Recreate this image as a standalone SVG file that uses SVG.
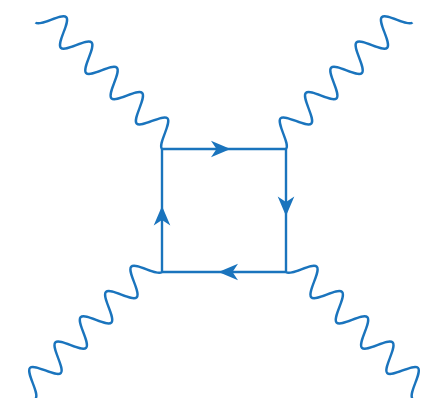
<svg xmlns="http://www.w3.org/2000/svg" xmlns:xlink="http://www.w3.org/1999/xlink" width="440" height="398" viewBox="0 0 440 398">
<style>
.ln{fill:none;stroke:#1a74bd;stroke-width:2.4;stroke-linecap:butt;stroke-linejoin:round}
.ph{fill:none;stroke:#1a74bd;stroke-width:2.4;stroke-linecap:butt}
.ar{fill:#1a74bd;stroke:none}
</style>
<defs>
<path id="wave" d="M0,0 c6.5,0 11.39,25.6 17.89,25.6 s11.39,-25.6 17.89,-25.6 s11.39,25.6 17.89,25.6 s11.39,-25.6 17.89,-25.6 s11.39,25.6 17.89,25.6 s11.39,-25.6 17.89,-25.6 s11.39,25.6 17.89,25.6 s11.39,-25.6 17.89,-25.6 s11.39,25.6 17.89,25.6 s11.39,-25.6 17.89,-25.6"/>
<path id="arrow" d="M0,0 L-19.5,-8.3 L-14,0 L-19.5,8.3 Z"/>
</defs>
<rect width="440" height="398" fill="#ffffff"/>
<g id="connectors">
<g id="photon-tl"><use xlink:href="#wave" class="ph" transform="matrix(-0.7071 -0.7071 0.7071 -0.7071 162 149)"/></g>
<g id="photon-tr"><use xlink:href="#wave" class="ph" transform="matrix(0.7071 -0.7071 -0.7071 -0.7071 286 149)"/></g>
<g id="photon-bl"><use xlink:href="#wave" class="ph" transform="matrix(-0.7071 0.7071 -0.7071 -0.7071 162 272)"/></g>
<g id="photon-br"><use xlink:href="#wave" class="ph" transform="matrix(0.7071 0.7071 0.7071 -0.7071 286 272)"/></g>
<g id="fermion-top"><line class="ln" x1="162" y1="149" x2="286" y2="149"/><use xlink:href="#arrow" class="ar" transform="translate(230.5,149)"/></g>
<g id="fermion-right"><line class="ln" x1="286" y1="149" x2="286" y2="272"/><use xlink:href="#arrow" class="ar" transform="translate(286,216) rotate(90)"/></g>
<g id="fermion-bottom"><line class="ln" x1="286" y1="272" x2="162" y2="272"/><use xlink:href="#arrow" class="ar" transform="translate(218.5,272) rotate(180)"/></g>
<g id="fermion-left"><line class="ln" x1="162" y1="272" x2="162" y2="149"/><use xlink:href="#arrow" class="ar" transform="translate(162,206) rotate(-90)"/></g>
</g>
</svg>
